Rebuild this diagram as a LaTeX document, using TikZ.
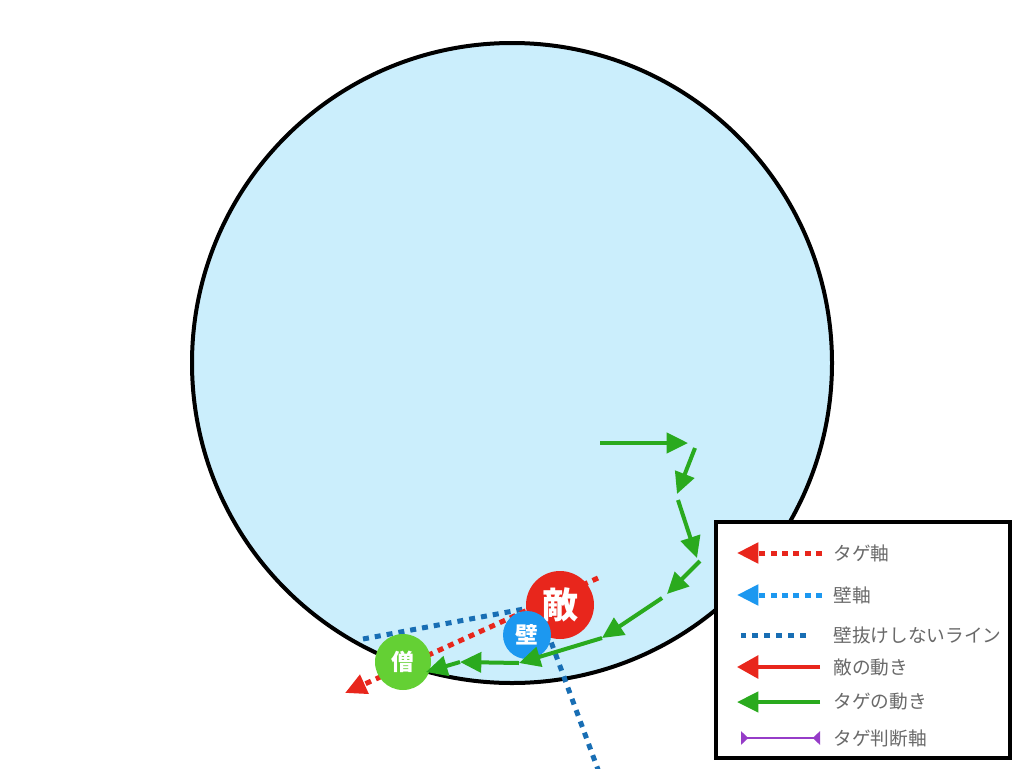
\documentclass[tikz,border=0pt]{standalone}
\usepackage{fontspec}
\newfontfamily\jpfont{Noto Sans CJK JP}
\usetikzlibrary{arrows.meta}

\definecolor{arenaBlue}{RGB}{203,238,252}
\definecolor{enemyRed}{RGB}{232,38,28}
\definecolor{wallBlue}{RGB}{28,152,240}
\definecolor{lineBlue}{RGB}{24,110,180}
\definecolor{healGreen}{RGB}{100,208,52}
\definecolor{moveGreen}{RGB}{42,170,30}
\definecolor{judgePurple}{RGB}{150,60,200}
\definecolor{legendGray}{RGB}{105,105,105}

\tikzset{every picture/.style={line width=0.75pt}}
\tikzset{
  tagemove/.style={draw=moveGreen, line width=3pt, -{Triangle[length=16pt,width=15pt]}},
  enemymove/.style={draw=enemyRed, line width=3pt, -{Triangle[length=16pt,width=17pt]}},
  tageaxis/.style={draw=enemyRed, line width=3.75pt, dash pattern=on 4.5pt off 4pt, -{Triangle[length=16pt,width=15pt]}},
  wallaxis/.style={draw=wallBlue, line width=3.75pt, dash pattern=on 4.5pt off 4pt, -{Triangle[length=16pt,width=15pt]}},
  noescape/.style={draw=lineBlue, line width=3.75pt, dash pattern=on 4.5pt off 4.5pt},
  judgeaxis/.style={draw=judgePurple, line width=1.5pt, {Triangle[reversed,length=5.5pt,width=10pt]}-{Triangle[reversed,length=5.5pt,width=10pt]}},
  unit/.style={circle, inner sep=0pt, text=white, font=\jpfont\bfseries},
  legendtext/.style={anchor=west, inner sep=0.75pt, text=legendGray, font=\jpfont\fontsize{14}{14}\selectfont}
}

\begin{document}
\begin{tikzpicture}[x=0.75pt,y=0.75pt,yscale=-1,xscale=1]
\useasboundingbox (0,0) rectangle (1024,768);

%Shape: Circle (arena)
\draw [line width=3pt, fill=arenaBlue] (512,363) circle [radius=320];

%Coordinates
\coordinate (nl1a) at (363,639);
\coordinate (nl1b) at (524,609);
\coordinate (nl2a) at (543,620);
\coordinate (nl2b) at (600,775);
\coordinate (ta1) at (598,578);
\coordinate (ta2) at (345,693);

%Dotted Lines
\draw [noescape] (nl1a) -- (nl1b) ;
\draw [noescape] (nl2a) -- (nl2b) ;
\draw [tageaxis] (ta1) -- (ta2) ;

%Units
\node [unit, fill=enemyRed, minimum size=51pt, font=\jpfont\bfseries\fontsize{27}{27}\selectfont] (enemy) at (560,605) {敵};
\node [unit, fill=wallBlue, minimum size=36pt, font=\jpfont\bfseries\fontsize{17}{17}\selectfont] (wall) at (527,635) {壁};
\node [unit, fill=healGreen, minimum size=42pt, font=\jpfont\bfseries\fontsize{17}{17}\selectfont] (healer) at (403,662) {僧};

%Tage path
\coordinate (g0) at (600,443);
\coordinate (g1) at (688,443);
\coordinate (g2a) at (695,448);
\coordinate (g2) at (677,494);
\coordinate (g3a) at (678,500);
\coordinate (g3) at (697,558);
\coordinate (g4a) at (700,561);
\coordinate (g4) at (667,594);
\coordinate (g5a) at (662,598);
\coordinate (g5) at (602,638);
\coordinate (g6) at (519,663);
\coordinate (g7) at (460,662);
\coordinate (g8) at (426,672);

%Straight Lines
\draw [tagemove] (g0) -- (g1) ;
\draw [tagemove] (g2a) -- (g2) ;
\draw [tagemove] (g3a) -- (g3) ;
\draw [tagemove] (g4a) -- (g4) ;
\draw [tagemove] (g5a) -- (g5) ;
\draw [tagemove] (g5) -- (g6) ;
\draw [tagemove] (g6) -- (g7) ;
\draw [tagemove] (g7) -- (g8) ;

%Shape: Rectangle (legend)
\draw [line width=3pt, fill=white] (716,522) rectangle (1010,758) ;

% Text Node
\node [legendtext] (l1) at (832,553) {タゲ軸};
\node [legendtext] (l2) at (832,595) {壁軸};
\node [legendtext] (l3) at (832,635) {壁抜けしないライン};
\node [legendtext] (l4) at (832,667) {敵の動き};
\node [legendtext] (l5) at (832,702) {タゲの動き};
\node [legendtext] (l6) at (832,738) {タゲ判断軸};

%Legend Lines
\draw [tageaxis] (l1.west) ++(-10,0) -- (737,553) ;
\draw [wallaxis] (l2.west) ++(-10,0) -- (737,595) ;
\draw [noescape] (l3.west) ++(-26,0) -- (741,635) ;
\draw [enemymove] (l4.west) ++(-12,0) -- (737,667) ;
\draw [tagemove] (l5.west) ++(-12,0) -- (737,702) ;
\draw [judgeaxis] (l6.west) ++(-12,0) -- (741,738) ;

\end{tikzpicture}
\end{document}
